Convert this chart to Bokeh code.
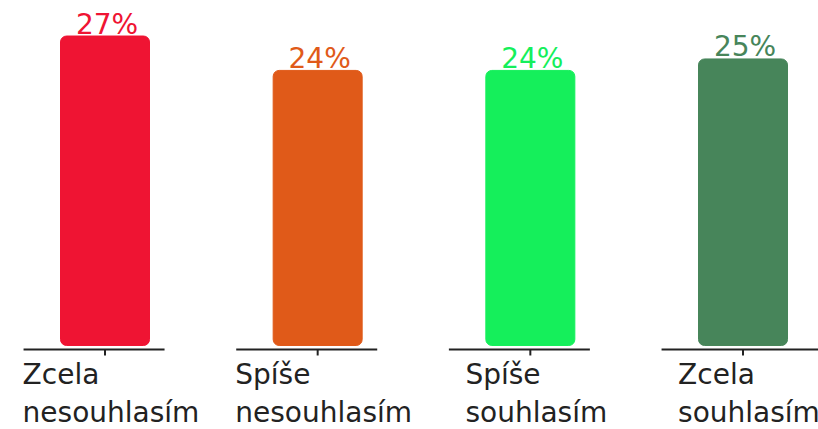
from bokeh.plotting import figure
from bokeh.models import ColumnDataSource, Range1d
from bokeh.core.properties import value
from bokeh.embed import file_html
from bokeh.resources import INLINE

categories = ["Zcela nesouhlasím", "Spíše nesouhlasím", "Spíše souhlasím", "Zcela souhlasím"]
values = [27, 24, 24, 25]
value_labels = ["27%", "24%", "24%", "25%"]
colors = ["#EF1433", "#E05A19", "#15EF5B", "#47855A"]

W, H = 818, 429
X_START, X_END = -0.4914, 3.355
Y_START, Y_END = -7.33, 30.10
PX_Y = H / (Y_END - Y_START)

xs = list(range(len(categories)))
seg_left = [x - 0.383 for x in xs]
seg_right = [x + 0.28 for x in xs]
seg_right[-1] = X_END  # last baseline runs to the edge
src = ColumnDataSource(dict(
    x=xs,
    top=values,
    color=colors,
    vlabel=value_labels,
    cat=[c.replace(" ", "\n", 1) for c in categories],
    base=[-4 / PX_Y] * len(xs),
    tick_end=[-10 / PX_Y] * len(xs),
    seg_left=seg_left,
    seg_right=seg_right,
))

p = figure(width=W, height=H, output_backend="svg", toolbar_location=None,
           x_range=Range1d(X_START, X_END), y_range=Range1d(Y_START, Y_END),
           min_border=0, outline_line_color=None)
p.axis.visible = False
p.grid.visible = False
p.background_fill_color = "white"
p.border_fill_color = "white"

p.vbar(x="x", top="top", bottom=0, width=0.4185, fill_color="color",
       line_color="color", line_width=1, border_radius=6, source=src)

# per-category baseline segments and ticks
p.segment(x0="seg_left", x1="seg_right", y0="base", y1="base",
          line_color="#222222", line_width=2, source=src)
p.segment(x0="x", x1="x", y0="base", y1="tick_end", line_color="#222222",
          line_width=2, source=src)

p.text(x="x", y="top", text="vlabel", text_color="color", text_align="center",
       text_baseline="alphabetic", x_offset=2, y_offset=-12,
       text_font=value("DejaVu Sans"), text_font_size="28px", source=src)

p.text(x="x", y="base", text="cat", text_color="#222222", text_align="left",
       anchor="top_center", x_offset=6, y_offset=9, text_line_height=1.15,
       text_font=value("DejaVu Sans"), text_font_size="28px", source=src)

open("out.html", "w").write(file_html(p, INLINE))
